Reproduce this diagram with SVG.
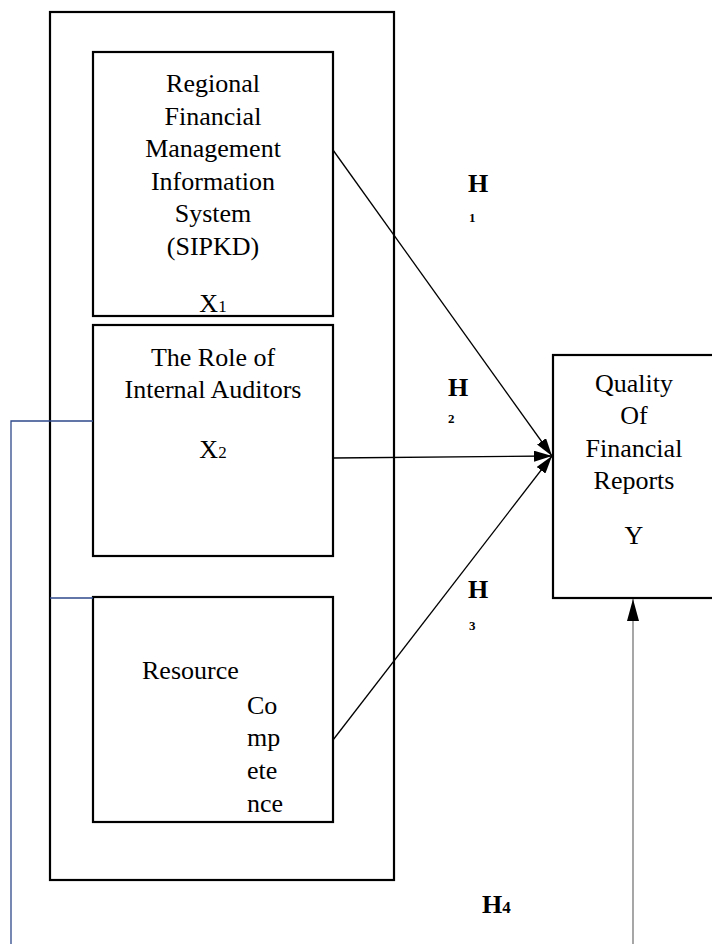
<svg xmlns="http://www.w3.org/2000/svg" width="712" height="944" viewBox="0 0 712 944">
<defs>
<style>
.box{fill:none;stroke:#000;stroke-width:2.2}
.t{font-family:"Liberation Serif","Times New Roman",serif;font-size:26px;fill:#000;text-anchor:middle}
.ts{text-anchor:start}
.h{font-family:"Liberation Serif","Times New Roman",serif;font-weight:bold;fill:#000}
.blue{fill:none;stroke:#2e4a8a;stroke-width:1.3}
.arr{fill:none;stroke:#000;stroke-width:1.3}
</style>
<marker id="ah" viewBox="0 0 18 11" refX="18" refY="5.5" markerWidth="18" markerHeight="11" markerUnits="userSpaceOnUse" orient="auto">
<path d="M0,0 L18,5.5 L0,11 Z" fill="#000"/>
</marker>
<marker id="ahb" viewBox="0 0 22 12" refX="22" refY="6" markerWidth="22" markerHeight="12" markerUnits="userSpaceOnUse" orient="auto">
<path d="M0,0 L22,6 L0,12 Z" fill="#000"/>
</marker>
</defs>
<rect width="712" height="944" fill="#fff"/>
<g id="outer"><rect class="box" x="50" y="12" width="344" height="868"/></g>
<g id="x1">
<rect class="box" x="93" y="52" width="240" height="264"/>
<text class="t" x="213" y="92">Regional</text>
<text class="t" x="213" y="125">Financial</text>
<text class="t" x="213" y="157">Management</text>
<text class="t" x="213" y="190">Information</text>
<text class="t" x="213" y="222">System</text>
<text class="t" x="213" y="255">(SIPKD)</text>
<text class="t" x="213" y="312">X<tspan font-size="17">1</tspan></text>
</g>
<g id="x2">
<rect class="box" x="93" y="325" width="240" height="231"/>
<text class="t" x="213" y="366">The Role of</text>
<text class="t" x="213" y="398">Internal Auditors</text>
<text class="t" x="213" y="458">X<tspan font-size="17">2</tspan></text>
</g>
<g id="x3">
<rect class="box" x="93" y="597" width="240" height="225"/>
<text class="t ts" x="142" y="679">Resource</text>
<text class="t ts" x="247" y="714">Co</text>
<text class="t ts" x="247" y="746">mp</text>
<text class="t ts" x="247" y="779">ete</text>
<text class="t ts" x="247" y="812">nce</text>
</g>
<g id="y">
<rect class="box" x="553" y="355" width="162" height="243"/>
<text class="t" x="634" y="392">Quality</text>
<text class="t" x="634" y="424">Of</text>
<text class="t" x="634" y="457">Financial</text>
<text class="t" x="634" y="489">Reports</text>
<text class="t" x="634" y="544">Y</text>
</g>
<g id="connectors">
<line class="arr" x1="333" y1="150" x2="552" y2="456" marker-end="url(#ah)"/>
<line class="arr" x1="333" y1="458" x2="552" y2="456" stroke-width="2" marker-end="url(#ah)"/>
<line class="arr" x1="333" y1="740" x2="552" y2="456" marker-end="url(#ah)"/>
<line x1="633" y1="944" x2="633" y2="599" stroke="#777" stroke-width="1.3" marker-end="url(#ahb)"/>
<polyline class="blue" points="93,421 11,421 11,944"/>
<line class="blue" x1="50" y1="598" x2="93" y2="598"/>
</g>
<g id="labels">
<text class="h" x="468" y="192" font-size="26">H</text>
<text class="h" x="469" y="222" font-size="13">1</text>
<text class="h" x="448" y="396" font-size="26">H</text>
<text class="h" x="448" y="423" font-size="13">2</text>
<text class="h" x="468" y="598" font-size="26">H</text>
<text class="h" x="469" y="630" font-size="13">3</text>
<text class="h" x="482" y="913" font-size="26">H<tspan font-size="17">4</tspan></text>
</g>
</svg>
